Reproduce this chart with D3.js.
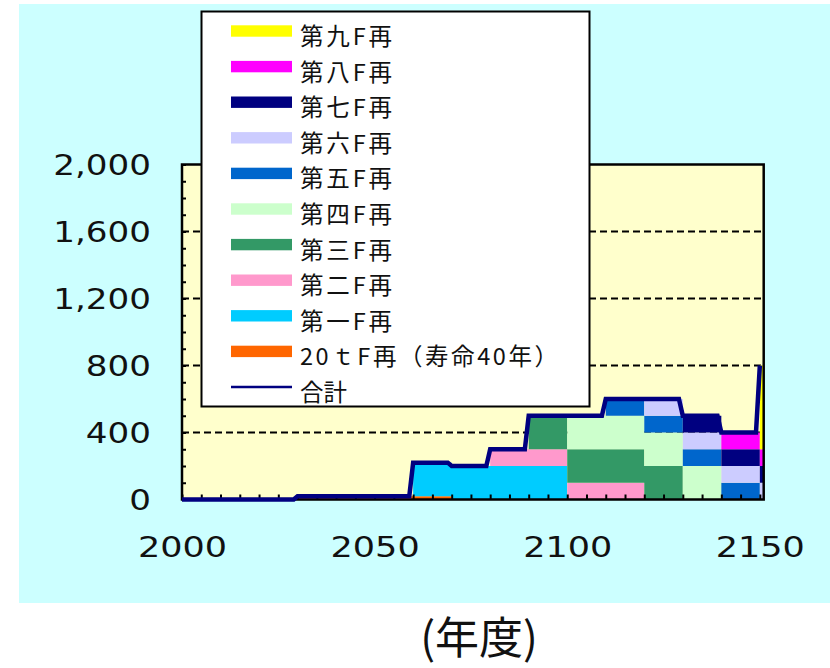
<!DOCTYPE html>
<html><head><meta charset="utf-8">
<script src="https://cdn.jsdelivr.net/npm/d3@7"></script>
<style>
html,body{margin:0;padding:0;background:#fff;}
svg{display:block;}
</style></head>
<body>
<svg id="chart" width="830" height="668"></svg>
<script>
// ---- data ----
const seriesNames = ["20ｔF再（寿命40年）","第一F再","第二F再","第三F再","第四F再","第五F再","第六F再","第七F再","第八F再","第九F再"];
const seriesColors = ["#FF6600","#00CCFF","#FF99CC","#339966","#CCFFCC","#0066CC","#CCCCFF","#000080","#FF00FF","#FFFF00"];
const startYears = [2030, 2060, 2080, 2090, 2100, 2110, 2120, 2130, 2140, 2150];
const endYears   = [2069, 2099, 2119, 2129, 2139, 2149, 2150, 2150, 2150, 2150];
const capacities = [20, 200, 100, 200, 200, 100, 100, 100, 100, 500];
const totalName = "合計";
const totalColor = "#000080";
const yTickValues = [0, 400, 800, 1200, 1600, 2000];
const xTickLabels = [2000, 2050, 2100, 2150];
const xAxisTitle = "(年度)";

// ---- build yearly table ----
const years = d3.range(2000, 2151);
const rows = years.map(yr => {
  const r = {year: yr};
  seriesNames.forEach((n, i) => { r[n] = (yr >= startYears[i] && yr <= endYears[i]) ? capacities[i] : 0; });
  return r;
});
const totals = rows.map(r => ({year: r.year, total: d3.sum(seriesNames, n => r[n])}));
// last category spans one more year on the axis
const areaRows = rows.concat([Object.assign({}, rows[rows.length - 1], {year: 2151})]);

const svg = d3.select("#chart");
svg.append("rect").attr("x", 19).attr("y", 4).attr("width", 811).attr("height", 599).attr("fill", "#CCFFFF");

const x = d3.scaleLinear().domain([2000, 2151]).range([182, 763.7]);
const y = d3.scaleLinear().domain([0, 2000]).range([499.5, 164.5]);

svg.append("rect").attr("x", x(2000)).attr("y", y(2000))
  .attr("width", x(2151) - x(2000)).attr("height", y(0) - y(2000)).attr("fill", "#FFFFCC");

// grid
svg.append("g").selectAll("line").data(yTickValues.filter(v => v > 0 && v < 2000)).join("line")
  .attr("x1", x(2000)).attr("x2", x(2151)).attr("y1", d => y(d)).attr("y2", d => y(d))
  .attr("stroke", "#000").attr("stroke-width", 2).attr("stroke-dasharray", "7,4");

// stacked areas
const stacked = d3.stack().keys(seriesNames)(areaRows);
const area = d3.area().x(d => x(d.data.year)).y0(d => y(d[0])).y1(d => y(d[1])).curve(d3.curveStepAfter);
svg.append("g").selectAll("path").data(stacked).join("path")
  .attr("d", area).attr("fill", (d, i) => seriesColors[i]);

// minor ticks (inside)
const yMinor = svg.append("g").attr("transform", `translate(${x(2000)},0)`)
  .call(d3.axisRight(y).tickValues(d3.range(0, 2001, 100)).tickSize(4).tickFormat(""));
yMinor.select(".domain").remove();
yMinor.selectAll("line").attr("stroke", "#000").attr("stroke-width", 2);
const xMinor = svg.append("g").attr("transform", `translate(0,${y(0)})`)
  .call(d3.axisTop(x).tickValues(d3.range(2000, 2151, 5)).tickSize(5).tickFormat(""));
xMinor.select(".domain").remove();
xMinor.selectAll("line").attr("stroke", "#000").attr("stroke-width", 2);

// frame
svg.append("rect").attr("x", x(2000)).attr("y", y(2000))
  .attr("width", x(2151) - x(2000)).attr("height", y(0) - y(2000))
  .attr("fill", "none").attr("stroke", "#000").attr("stroke-width", 2.5);

// total line
svg.append("path").datum(totals)
  .attr("d", d3.line().x(d => x(d.year)).y(d => y(d.total)))
  .attr("fill", "none").attr("stroke", totalColor).attr("stroke-width", 4.5).attr("stroke-linejoin", "miter");

function widen(sel, k) {
  sel.each(function() {
    const w = this.getComputedTextLength();
    d3.select(this).attr("textLength", w * k).attr("lengthAdjust", "spacingAndGlyphs");
  });
}

// axis labels
const yLab = svg.append("g").attr("transform", `translate(${x(2000)},0)`)
  .call(d3.axisLeft(y).tickValues(yTickValues).tickFormat(d3.format(",")).tickSize(0).tickPadding(31));
yLab.select(".domain").remove();
yLab.selectAll("text").attr("font-family", "DejaVu Sans").attr("font-size", 28)
  .attr("fill", "#111").attr("dy", "0.36em");
widen(yLab.selectAll("text"), 1.22);
const xLab = svg.append("g").attr("transform", `translate(0,${y(0)})`)
  .call(d3.axisBottom(x).tickValues(xTickLabels).tickFormat(d3.format("d")).tickSize(0).tickPadding(38));
xLab.select(".domain").remove();
xLab.selectAll("text").attr("font-family", "DejaVu Sans").attr("font-size", 28)
  .attr("fill", "#111").attr("dy", "0.71em");
widen(xLab.selectAll("text"), 1.25);

// legend
const lg = svg.append("g");
svg.append("clipPath").attr("id", "lgclip").append("rect").attr("x", 202).attr("y", 12).attr("width", 387).attr("height", 394);
lg.append("rect").attr("x", 201.5).attr("y", 11.5).attr("width", 388).attr("height", 395)
  .attr("fill", "#fff").attr("stroke", "#000").attr("stroke-width", 2);
const lgItems = seriesNames.map((n, i) => ({name: n, color: seriesColors[i], line: false})).reverse()
  .concat([{name: totalName, color: totalColor, line: true}]);
const lgc = lg.append("g").attr("clip-path", "url(#lgclip)");
lgItems.forEach((it, i) => {
  const cy = 31 + i * 35.6;
  if (it.line) {
    lgc.append("line").attr("x1", 231).attr("x2", 292).attr("y1", cy).attr("y2", cy)
      .attr("stroke", it.color).attr("stroke-width", 2.5);
  } else {
    lgc.append("rect").attr("x", 231).attr("y", cy - 5.7).attr("width", 61).attr("height", 11.4).attr("fill", it.color);
  }
  const t = lgc.append("text").attr("x", 300).attr("y", cy + 14).text(it.name)
    .attr("font-family", "Noto Sans CJK JP").attr("font-size", 23.5).attr("fill", "#111");
  const w = t.node().getComputedTextLength();
  const target = it.line ? w : (i === lgItems.length - 2 ? 258 : 92);
  t.attr("textLength", target).attr("lengthAdjust", "spacing");
});

// x axis title
svg.append("text").attr("x", 479).attr("y", 654).attr("text-anchor", "middle")
  .attr("font-family", "Noto Sans CJK JP").attr("font-size", 44).attr("fill", "#111").text(xAxisTitle);
</script>
</body></html>
